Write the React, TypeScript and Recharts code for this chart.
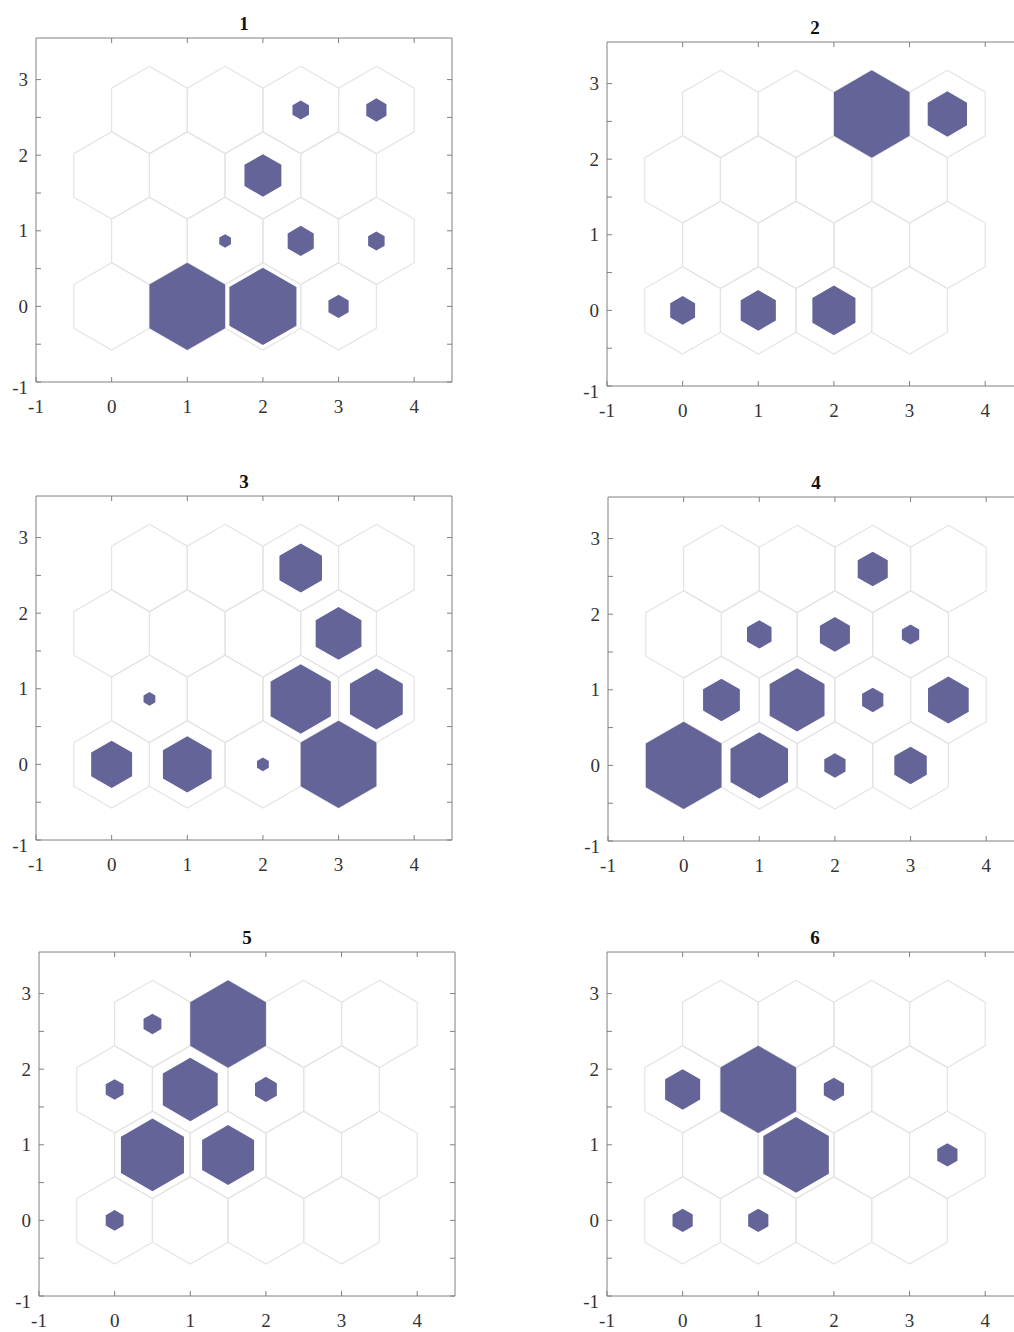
import React from "react";
import { ReferenceLine, Scatter, ScatterChart, XAxis, YAxis } from "recharts";

// 4x4 hexagonal SOM grid, neuron positions (hextop order)
const NEURON_X = [0, 1, 2, 3, 0.5, 1.5, 2.5, 3.5, 0, 1, 2, 3, 0.5, 1.5, 2.5, 3.5];
const NEURON_Y = [
  0, 0, 0, 0,
  0.866, 0.866, 0.866, 0.866,
  1.732, 1.732, 1.732, 1.732,
  2.598, 2.598, 2.598, 2.598,
];

// sample hits per neuron, one array per subplot
const HITS_1 = [0, 42, 33, 3, 0, 1, 5, 2, 0, 0, 10, 0, 0, 0, 2, 3];
const HITS_2 = [4, 8, 12, 0, 0, 0, 0, 0, 0, 0, 0, 0, 0, 0, 37, 10];
const HITS_3 = [12, 17, 1, 41, 1, 0, 26, 20, 0, 0, 0, 15, 0, 0, 13, 0];
const HITS_4 = [38, 22, 3, 7, 9, 20, 3, 11, 0, 4, 6, 2, 0, 0, 6, 0];
const HITS_5 = [2, 0, 0, 0, 25, 17, 0, 0, 2, 19, 3, 0, 2, 36, 0, 0];
const HITS_6 = [2, 2, 0, 0, 0, 21, 0, 2, 6, 28, 2, 0, 0, 0, 0, 0];

const TITLES = ["1", "2", "3", "4", "5", "6"];
const X_TICKS = [-1, 0, 1, 2, 3, 4];
const Y_TICKS = [-1, -0.5, 0, 0.5, 1, 1.5, 2, 2.5, 3];

const X_DOMAIN: [number, number] = [-1, 4.5];
const Y_DOMAIN: [number, number] = [-1, 3.55];

const PLOT_W = 416;
const PLOT_H = 344;
const KX = PLOT_W / (X_DOMAIN[1] - X_DOMAIN[0]);
const KY = PLOT_H / (Y_DOMAIN[1] - Y_DOMAIN[0]);

const ML = 40;
const MT = 40;
const CHART_W = ML + PLOT_W + 12;
const CHART_H = MT + PLOT_H + 40;

// top-left corner of each axes box on the page
const PANEL_POS: [number, number][] = [
  [36, 38],
  [607, 42],
  [36, 496],
  [608, 497],
  [39, 952],
  [607, 952],
];

const FONT = '"Liberation Serif", "Times New Roman", serif';
const AXIS = "#808080";
const LABEL = "#333";
const HIT_FILL = "#646499";
const CELL_STROKE = "#e4e4e4";

const R = 1 / Math.sqrt(3);
const HEX = [
  [0, R],
  [0.5, R / 2],
  [0.5, -R / 2],
  [0, -R],
  [-0.5, -R / 2],
  [-0.5, R / 2],
];

function hexPoints(cx: number, cy: number, f: number) {
  return HEX.map(([dx, dy]) => `${cx + dx * f * KX},${cy - dy * f * KY}`).join(" ");
}

function CellShape(props: any) {
  const { cx, cy } = props;
  if (cx == null || cy == null) return <g />;
  return <polygon points={hexPoints(cx, cy, 1)} fill="none" stroke={CELL_STROKE} strokeWidth={1.2} />;
}

function makeHitShape(maxHits: number) {
  return function HitShape(props: any) {
    const { cx, cy, payload } = props;
    if (cx == null || cy == null || !payload) return <g />;
    const f = Math.sqrt(payload.hits / maxHits);
    return <polygon points={hexPoints(cx, cy, f)} fill={HIT_FILL} stroke="none" />;
  };
}

// bottom tick: inward tick on both bottom and top edge of the box, label below
function BottomTick({ x, y, payload }: any) {
  const top = y - PLOT_H;
  return (
    <g>
      <line x1={x} x2={x} y1={y} y2={y - 5} stroke={AXIS} />
      {payload.value > X_DOMAIN[0] && <line x1={x} x2={x} y1={top} y2={top + 5} stroke={AXIS} />}
      <text x={x} y={y + 24} textAnchor="middle" dominantBaseline="central" fontFamily={FONT} fontSize={19} fill={LABEL}>
        {payload.value}
      </text>
    </g>
  );
}

// left tick: inward tick on both left and right edge, label only at integers
function LeftTick({ x, y, payload }: any) {
  const v = payload.value;
  const right = x + PLOT_W;
  return (
    <g>
      <line x1={x} x2={x + 5} y1={y} y2={y} stroke={AXIS} />
      <line x1={right} x2={right - 5} y1={y} y2={y} stroke={AXIS} />
      {Number.isInteger(v) && (
        <text x={x - 8} y={v === -1 ? y + 5 : y} textAnchor="end" dominantBaseline="central" fontFamily={FONT} fontSize={19} fill={LABEL}>
          {v}
        </text>
      )}
    </g>
  );
}

function HitsPanel({ hits, title, left, top }: { hits: number[]; title: string; left: number; top: number }) {
  const cells = NEURON_X.map((x, i) => ({ x, y: NEURON_Y[i], hits: hits[i] }));
  const filled = cells.filter((c) => c.hits > 0);
  const maxHits = Math.max(...hits);
  return (
    <div style={{ position: "absolute", left: left - ML, top: top - MT, width: CHART_W, height: CHART_H }}>
      <div
        style={{
          position: "absolute",
          left: ML,
          top: MT - 24,
          width: PLOT_W,
          textAlign: "center",
          fontFamily: FONT,
          fontWeight: "bold",
          fontSize: 19,
          lineHeight: "20px",
          color: "#111",
        }}
      >
        {title}
      </div>
      <ScatterChart width={CHART_W} height={CHART_H} margin={{ top: MT, right: 12, bottom: 10, left: 10 }}>
        <XAxis
          dataKey="x"
          type="number"
          domain={X_DOMAIN}
          ticks={X_TICKS}
          interval={0}
          allowDataOverflow
          height={30}
          tickSize={0}
          tickMargin={0}
          tickLine={false}
          axisLine={{ stroke: AXIS }}
          tick={<BottomTick />}
        />
        <YAxis
          dataKey="y"
          type="number"
          domain={Y_DOMAIN}
          ticks={Y_TICKS}
          interval={0}
          allowDataOverflow
          width={30}
          tickSize={0}
          tickMargin={0}
          tickLine={false}
          axisLine={{ stroke: AXIS }}
          tick={<LeftTick />}
        />
        <ReferenceLine y={Y_DOMAIN[1]} stroke={AXIS} ifOverflow="visible" />
        <ReferenceLine x={X_DOMAIN[1]} stroke={AXIS} ifOverflow="visible" />
        <Scatter data={cells} shape={<CellShape />} isAnimationActive={false} />
        <Scatter data={filled} shape={makeHitShape(maxHits)} isAnimationActive={false} />
      </ScatterChart>
    </div>
  );
}

const ALL_HITS = [HITS_1, HITS_2, HITS_3, HITS_4, HITS_5, HITS_6];

export default function App() {
  return (
    <div
      style={{
        position: "absolute",
        left: 0,
        top: 0,
        width: 1014,
        height: 1332,
        overflow: "hidden",
        background: "#fff",
      }}
    >
      {ALL_HITS.map((hits, i) => (
        <HitsPanel key={i} hits={hits} title={TITLES[i]} left={PANEL_POS[i][0]} top={PANEL_POS[i][1]} />
      ))}
    </div>
  );
}
